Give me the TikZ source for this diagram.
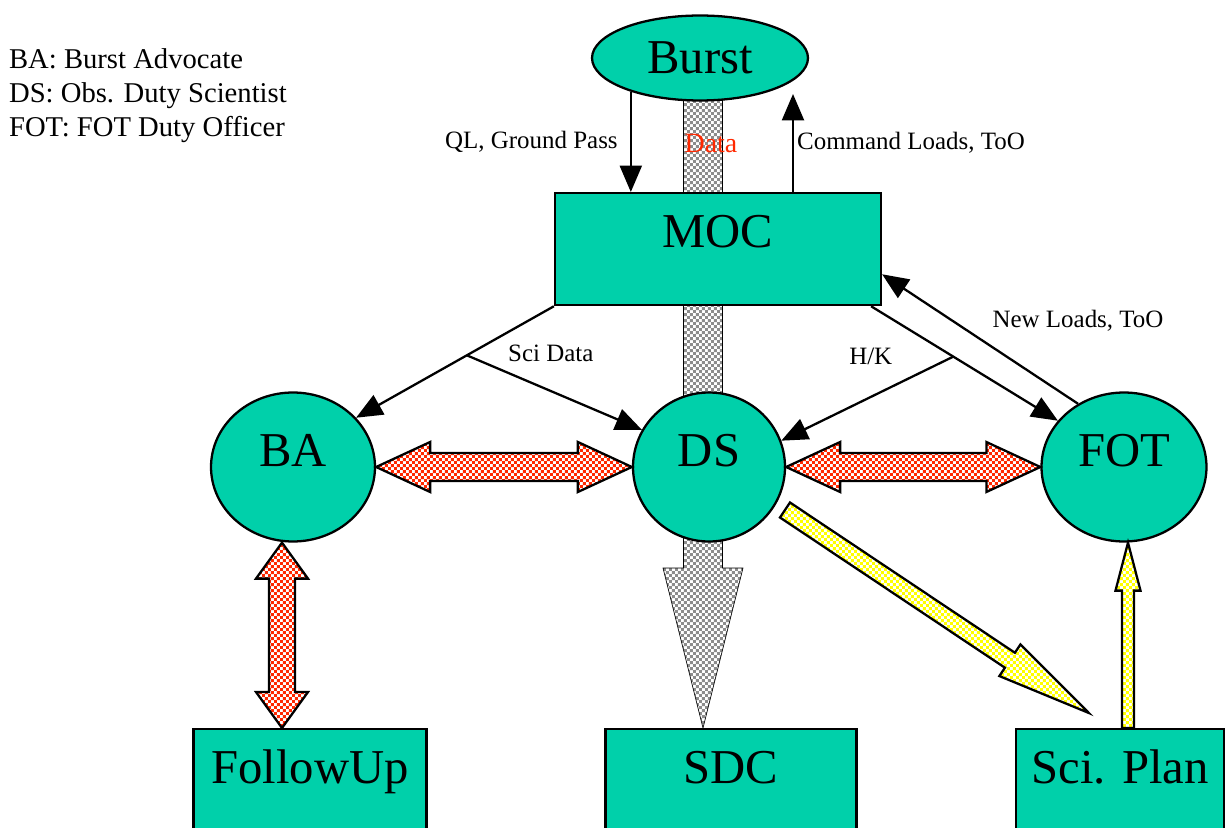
\documentclass[tikz,border=0pt]{standalone}
\usepackage{fontspec}
\setmainfont{Liberation Serif}
\usepackage{tikz}
\usetikzlibrary{arrows.meta, calc, patterns.meta, shapes.geometric, backgrounds}
\definecolor{boxteal}{RGB}{0,208,170}
\definecolor{flowred}{RGB}{255,40,0}
\definecolor{flowgray}{RGB}{140,140,140}
\tikzdeclarepattern{
	name=finechecker, type=uncolored,
	bounding box={(0pt,0pt) and (3.4pt,3.4pt)},
	tile size={(3.4pt,3.4pt)},
	code={\fill (0pt,0pt) rectangle (1.7pt,1.7pt); \fill (1.7pt,1.7pt) rectangle (3.4pt,3.4pt);}
}
\tikzset{
	arr/.style={-{Triangle[length=15pt, width=12.5pt]}}, % thin black arrows
	bigfont/.style={font=\fontsize{27.7}{33}\selectfont},
	lbl/.style={font=\fontsize{14.2}{17}\selectfont, inner sep=0pt}, % connector labels
	blob/.style={ellipse, draw, fill=boxteal, inner sep=0pt, bigfont},
	unit/.style={blob, text height=0.7cm, text depth=0.73cm, minimum width=3.3cm, minimum height=2.98cm}, % text sits a bit high
	box/.style={rectangle, draw, fill=boxteal, inner sep=0pt, anchor=north, text height=1.08cm, bigfont}, % text sits at the top
	redflow/.style={preaction={fill=white}, pattern=finechecker, pattern color=flowred, draw=black},
	yellowflow/.style={preaction={fill=white}, pattern=finechecker, pattern color=yellow, draw=black},
	dataflow/.style={preaction={fill=white}, pattern=finechecker, pattern color=flowgray, draw=black},
}
% fat arrow: style, from, to, shaft half width, head half width, head length
\newcommand{\flowarrow}[6]{%
	\coordinate (arrowhead) at ($(#3)!#6!(#2)$);
	\path[#1] ($(#2)!#4!90:(#3)$) -- ($(arrowhead)!#4!90:(#3)$) -- ($(arrowhead)!#5!90:(#3)$) -- (#3)
		-- ($(arrowhead)!#5!-90:(#3)$) -- ($(arrowhead)!#4!-90:(#3)$) -- ($(#2)!#4!-90:(#3)$) -- cycle;}
% fat arrow with a head at both ends
\newcommand{\swaparrow}[6]{%
	\coordinate (headA) at ($(#2)!#6!(#3)$);
	\coordinate (headB) at ($(#3)!#6!(#2)$);
	\path[#1] (#2) -- ($(headA)!#5!90:(#3)$) -- ($(headA)!#4!90:(#3)$) -- ($(headB)!#4!90:(#3)$) -- ($(headB)!#5!90:(#3)$) -- (#3)
		-- ($(headB)!#5!-90:(#3)$) -- ($(headB)!#4!-90:(#3)$) -- ($(headA)!#4!-90:(#3)$) -- ($(headA)!#5!-90:(#3)$) -- cycle;}

\begin{document}
\begin{tikzpicture}[x=0.02cm, y=-0.02cm, line width=1.3pt] % one unit is one pixel of the slide, y grows downwards
	\useasboundingbox (0,0) rectangle (1228,828);
	\clip (0,0) rectangle (1228,828);

	\node[anchor=north west, inner sep=0pt, align=left, font=\fontsize{16.3}{19.6}\selectfont] (legend) at (8,47)
		{BA: Burst Advocate\\DS: Obs. Duty Scientist\\FOT: FOT Duty Officer};

	\node[blob, minimum width=4.32cm, minimum height=1.7cm] (burst) at (700,58) {Burst};
	\node[box, minimum width=6.52cm, text depth=1.16cm] (moc) at (718,192) {MOC};
	\node[unit, minimum width=3.28cm] (ba) at (293,467) {BA};
	\node[unit, minimum width=3.04cm] (ds) at (709,467) {DS};
	\node[unit] (fot) at (1124,467) {FOT};
	\node[box, minimum width=4.66cm, text depth=1.32cm] (followup) at (310,728) {FollowUp};
	\node[box, minimum width=5.02cm, text depth=1.32cm] (sdc) at (731,728) {SDC};
	\node[box, minimum width=4.16cm, text depth=1.32cm] (sciplan) at (1120,728) {Sci. Plan};

	% data stream runs behind the nodes
	\begin{scope}[on background layer]
		\coordinate (datatop) at ($(burst.south)+(3,-5)$);
		\coordinate (datatip) at (datatop |- sdc.north);
		\flowarrow{dataflow}{datatop}{datatip}{0.39cm}{0.8cm}{3.2cm}
	\end{scope}
	\node[font=\fontsize{15.9}{19}\selectfont, text=flowred, inner sep=0pt] (datalbl) at (711,143) {Data};

	% burst <-> moc
	\coordinate (cmdend) at (793,94);
	\draw[arr] (burst.206) -- node[lbl, left=0.24cm]{QL, Ground Pass} (burst.206 |- moc.north);
	\draw[arr] (moc.north -| cmdend) -- node[lbl, right=0.06cm]{Command Loads, ToO} (cmdend);

	% moc -> ba, ds, fot
	\coordinate (scisplit) at ($(moc.south west)!0.44!(ba.38)$);
	\draw[arr] (moc.south west) -- (ba.38);
	\draw[arr] (scisplit) -- node[lbl, pos=0.48, above=0.57cm]{Sci Data} (ds.151);
	\coordinate (mocfot) at ($(moc.south east)+(-11,0)$);
	\coordinate (hksplit) at ($(mocfot)!0.44!(fot.145)$);
	\draw[arr] (mocfot) -- (fot.145);
	\draw[arr] (hksplit) -- node[lbl, pos=0.48, above=0.62cm]{H/K} (ds.20);
	\draw[arr] (fot.126) -- ($(moc.north east)!0.72!(moc.south east)$);
	\node[lbl] (newloads) at (1078,321) {New Loads, ToO};

	% coordination arrows
	\swaparrow{redflow}{ba.east}{ds.west}{0.28cm}{0.5cm}{1.08cm}
	\swaparrow{redflow}{ds.east}{fot.west}{0.28cm}{0.5cm}{1.08cm}
	\coordinate (batip) at ($(ba.south)+(-11,0)$);
	\coordinate (futip) at (batip |- followup.north);
	\swaparrow{redflow}{batip}{futip}{0.26cm}{0.52cm}{0.72cm}

	% planning arrows
	\coordinate (plantail) at ($(ds.center)+(76,43)$);
	\coordinate (plantip) at ($(sciplan.north west)+(74,-15)$);
	\flowarrow{yellowflow}{plantail}{plantip}{0.18cm}{0.38cm}{1.9cm}
	\coordinate (planbase) at ($(sciplan.north)+(8,0)$);
	\coordinate (fotbase) at (planbase |- fot.south);
	\flowarrow{yellowflow}{planbase}{fotbase}{0.12cm}{0.25cm}{0.96cm}
\end{tikzpicture}
\end{document}
